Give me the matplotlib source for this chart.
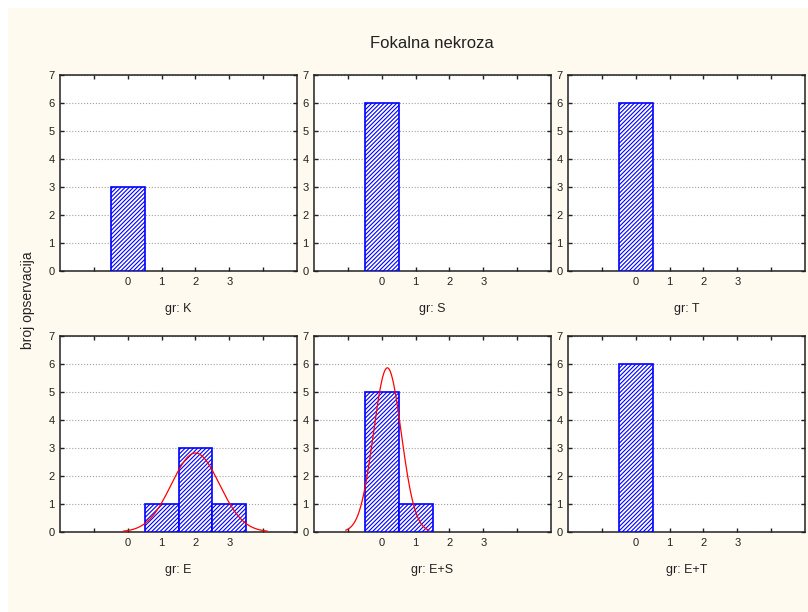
import numpy as np
import matplotlib
matplotlib.use('Agg')
import matplotlib.pyplot as plt
from matplotlib.patches import Rectangle

plt.rcParams['font.family'] = ['Liberation Sans', 'DejaVu Sans']
plt.rcParams['hatch.linewidth'] = 0.8
plt.rcParams['hatch.color'] = '#0000ff'

# podaci: broj opservacija po vrijednosti (0..3) za svaku grupu
vrijednosti = [0, 1, 2, 3]
grupe = ['K', 'S', 'T', 'E', 'E+S', 'E+T']
cnt_K = [3, 0, 0, 0]
cnt_S = [6, 0, 0, 0]
cnt_T = [6, 0, 0, 0]
cnt_E = [0, 1, 3, 1]
cnt_ES = [5, 1, 0, 0]
cnt_ET = [6, 0, 0, 0]
counts = [cnt_K, cnt_S, cnt_T, cnt_E, cnt_ES, cnt_ET]

tick_pos = [-1, 0, 1, 2, 3, 4]
tick_lab = ['', '0', '1', '2', '3', '']

W, H = 808, 612
fig = plt.figure(figsize=(W / 100, H / 100), dpi=100, facecolor='white')
# kremasta pozadina (tanki bijeli rub gore i lijevo)
fig.patches.append(Rectangle((8 / W, 0), 1, 1 - 8 / H, transform=fig.transFigure,
                             facecolor='#fffaf0', edgecolor='none', zorder=-10))

lefts = [60, 314, 568]
bottoms = [271, 532]
aw, ah = 237, 196

for i, (g, c) in enumerate(zip(grupe, counts)):
    r, k = divmod(i, 3)
    ax = fig.add_axes([lefts[k] / W, 1 - bottoms[r] / H, aw / W, ah / H])
    ax.set_facecolor('white')
    for v, n in zip(vrijednosti, c):
        if n > 0:
            ax.bar(v, n, width=1.0, facecolor='white', edgecolor='#0000ff',
                   hatch='////////', linewidth=1.2, zorder=3)
    # normalna krivulja (prilagodba na podatke)
    data = np.repeat(vrijednosti, c)
    if data.std() > 0:
        m = data.mean()
        s = data.std(ddof=1)
        xs = np.linspace(m - 3 * s, m + 3 * s, 200)
        ys = len(data) * 1.0 / (s * np.sqrt(2 * np.pi)) * np.exp(-0.5 * ((xs - m) / s) ** 2)
        ax.plot(xs, ys, color='#ff0000', lw=0.9, zorder=4)
    ax.set_xlim(-2, 5)
    ax.set_ylim(0, 7)
    ax.set_xticks(tick_pos)
    ax.set_xticklabels(tick_lab)
    ax.set_yticks(range(0, 8))
    ax.tick_params(direction='in', top=True, right=True, length=3, width=1,
                   labelsize=8, colors='#222222', pad=4)
    ax.grid(axis='y', linestyle=':', color='#a0a0a0', linewidth=0.8, zorder=0)
    for sp in ax.spines.values():
        sp.set_linewidth(1.1)
        sp.set_color('#222222')
    ax.set_xlabel('gr: ' + g, fontsize=9, labelpad=12, color='#222222')

fig.text(432 / W, 1 - 43 / H, 'Fokalna nekroza', ha='center', va='center',
         fontsize=12, color='#222222')
fig.text(28 / W, 1 - 300 / H, 'broj opservacija', ha='center', va='center',
         rotation=90, fontsize=10, color='#222222')

fig.savefig('out.png', dpi=100, facecolor=fig.get_facecolor())
